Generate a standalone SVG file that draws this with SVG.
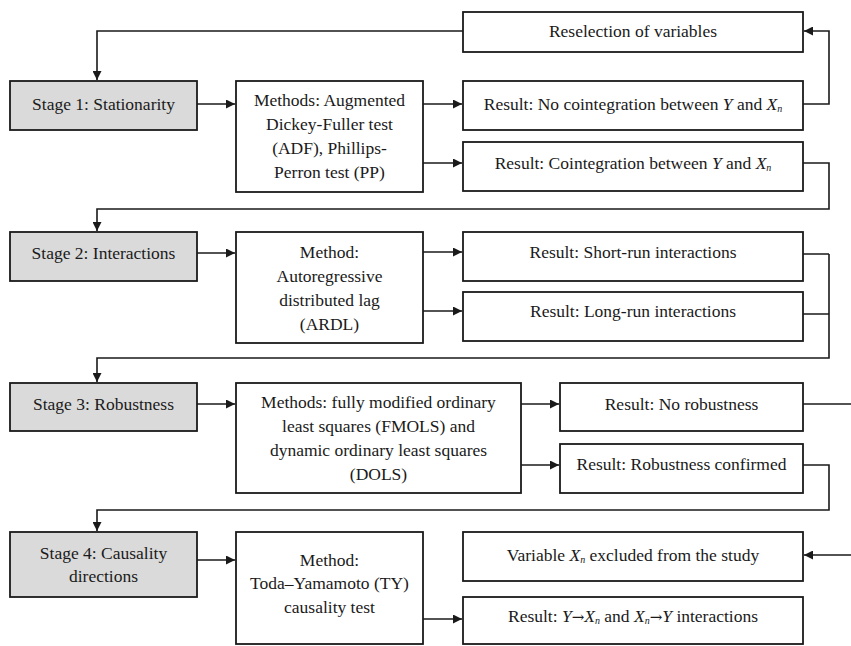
<svg xmlns="http://www.w3.org/2000/svg" width="851" height="646" viewBox="0 0 851 646">
<style>
.box{fill:#fff;stroke:#1a1a1a;stroke-width:1.8}
.stage{fill:#dadada;stroke:#1a1a1a;stroke-width:1.8}
.t{font-family:"Liberation Serif","Times New Roman",serif;font-size:17.5px;fill:#1a1a1a;text-anchor:middle}
.i{font-style:italic}
.s{font-style:italic;font-size:10px}
.c{fill:none;stroke:#1a1a1a;stroke-width:1.6}
</style>
<defs>
<marker id="ah" viewBox="0 0 10 10" refX="10" refY="5" markerUnits="userSpaceOnUse" markerWidth="10" markerHeight="9" orient="auto">
<path d="M0,0 L10,5 L0,10 z" fill="#1a1a1a"/>
</marker>
</defs>
<rect width="851" height="646" fill="#fff"/>
<g id="connectors">
<path class="c" d="M463,31 H97 V80" marker-end="url(#ah)"/>
<path class="c" d="M197,104 H235" marker-end="url(#ah)"/>
<path class="c" d="M423,104 H462" marker-end="url(#ah)"/>
<path class="c" d="M423,163 H462" marker-end="url(#ah)"/>
<path class="c" d="M803,104 H829 V31 H804" marker-end="url(#ah)"/>
<path class="c" d="M803,163 H829 V209 H97 V231" marker-end="url(#ah)"/>
<path class="c" d="M197,253 H235" marker-end="url(#ah)"/>
<path class="c" d="M423,252 H462" marker-end="url(#ah)"/>
<path class="c" d="M423,311 H462" marker-end="url(#ah)"/>
<path class="c" d="M803,254 H829 M803,314 H829 M829,254 V358 H97 V382" marker-end="url(#ah)"/>
<path class="c" d="M197,404 H235" marker-end="url(#ah)"/>
<path class="c" d="M521,404 H559" marker-end="url(#ah)"/>
<path class="c" d="M521,465 H559" marker-end="url(#ah)"/>
<path class="c" d="M803,404 H851"/>
<path class="c" d="M803,465 H829 V510 H97 V531" marker-end="url(#ah)"/>
<path class="c" d="M197,560 H235" marker-end="url(#ah)"/>
<path class="c" d="M851,555 H804" marker-end="url(#ah)"/>
<path class="c" d="M423,619 H462" marker-end="url(#ah)"/>
</g>
<g id="reselection"><rect class="box" x="463" y="12" width="340" height="40"/><text class="t" x="633" y="37">Reselection of variables</text></g>
<g id="stage1"><rect class="stage" x="10" y="81" width="187" height="49"/><text class="t" x="103.5" y="110">Stage 1: Stationarity</text></g>
<g id="methods1"><rect class="box" x="236" y="81" width="187" height="111"/>
<text class="t" x="329.5" y="106">Methods: Augmented</text>
<text class="t" x="329.5" y="130">Dickey-Fuller test</text>
<text class="t" x="329.5" y="154">(ADF), Phillips-</text>
<text class="t" x="329.5" y="178">Perron test (PP)</text></g>
<g id="nocoint"><rect class="box" x="463" y="81" width="340" height="49"/><text class="t" x="633" y="110">Result: No cointegration between <tspan class="i">Y</tspan> and <tspan class="i">X</tspan><tspan class="s" baseline-shift="-2">n</tspan></text></g>
<g id="coint"><rect class="box" x="463" y="142" width="340" height="49"/><text class="t" x="633" y="169">Result: Cointegration between <tspan class="i">Y</tspan> and <tspan class="i">X</tspan><tspan class="s" baseline-shift="-2">n</tspan></text></g>
<g id="stage2"><rect class="stage" x="10" y="232" width="187" height="49"/><text class="t" x="103.5" y="259">Stage 2: Interactions</text></g>
<g id="methods2"><rect class="box" x="236" y="232" width="187" height="111"/>
<text class="t" x="329.5" y="258">Method:</text>
<text class="t" x="329.5" y="282">Autoregressive</text>
<text class="t" x="329.5" y="306">distributed lag</text>
<text class="t" x="329.5" y="330">(ARDL)</text></g>
<g id="shortrun"><rect class="box" x="463" y="232" width="340" height="49"/><text class="t" x="633" y="258">Result: Short-run interactions</text></g>
<g id="longrun"><rect class="box" x="463" y="292" width="340" height="49"/><text class="t" x="633" y="317">Result: Long-run interactions</text></g>
<g id="stage3"><rect class="stage" x="10" y="383" width="187" height="48"/><text class="t" x="103.5" y="410">Stage 3: Robustness</text></g>
<g id="methods3"><rect class="box" x="236" y="383" width="285" height="110"/>
<text class="t" x="378.5" y="408">Methods: fully modified ordinary</text>
<text class="t" x="378.5" y="432">least squares (FMOLS) and</text>
<text class="t" x="378.5" y="456">dynamic ordinary least squares</text>
<text class="t" x="378.5" y="480">(DOLS)</text></g>
<g id="norobust"><rect class="box" x="560" y="383" width="243" height="48"/><text class="t" x="681.5" y="410">Result: No robustness</text></g>
<g id="robustok"><rect class="box" x="560" y="444" width="243" height="49"/><text class="t" x="681.5" y="470">Result: Robustness confirmed</text></g>
<g id="stage4"><rect class="stage" x="10" y="532" width="187" height="65"/>
<text class="t" x="103.5" y="559">Stage 4: Causality</text>
<text class="t" x="103.5" y="582">directions</text></g>
<g id="methods4"><rect class="box" x="236" y="532" width="187" height="112"/>
<text class="t" x="329.5" y="566">Method:</text>
<text class="t" x="329.5" y="589">Toda–Yamamoto (TY)</text>
<text class="t" x="329.5" y="613">causality test</text></g>
<g id="excluded"><rect class="box" x="463" y="532" width="340" height="49"/><text class="t" x="633" y="561">Variable <tspan class="i">X</tspan><tspan class="s" baseline-shift="-2">n</tspan> excluded from the study</text></g>
<g id="interactions"><rect class="box" x="463" y="597" width="340" height="47"/><text class="t" x="633" y="622">Result: <tspan class="i">Y</tspan><tspan font-family="DejaVu Serif" font-size="15">→</tspan><tspan class="i">X</tspan><tspan class="s" baseline-shift="-2">n</tspan> and <tspan class="i">X</tspan><tspan class="s" baseline-shift="-2">n</tspan><tspan font-family="DejaVu Serif" font-size="15">→</tspan><tspan class="i">Y</tspan> interactions</text></g>
</svg>
